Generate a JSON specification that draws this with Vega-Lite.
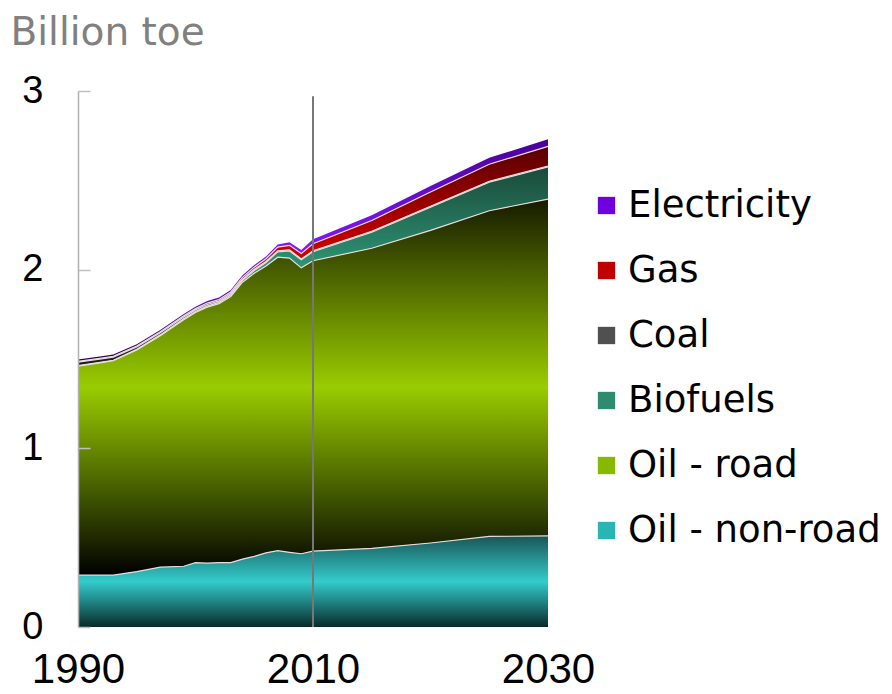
{
  "$schema": "https://vega.github.io/schema/vega-lite/v6.json",
  "width": 470,
  "height": 536,
  "autosize": {"type": "none"},
  "padding": {"left": 78, "top": 91, "right": 344, "bottom": 67},
  "config": {"view": {"stroke": null}, "font": "DejaVu Sans"},
  "data": {
    "values": [
      {"year": 1990, "Oil - non-road": 0.29, "Oil - road": 1.17, "Biofuels": 0.003, "Coal": 0.02, "Gas": 0.004, "Electricity": 0.01},
      {"year": 1992, "Oil - non-road": 0.29, "Oil - road": 1.19, "Biofuels": 0.003, "Coal": 0.018, "Gas": 0.004, "Electricity": 0.01},
      {"year": 1993, "Oil - non-road": 0.29, "Oil - road": 1.2, "Biofuels": 0.003, "Coal": 0.017, "Gas": 0.005, "Electricity": 0.01},
      {"year": 1995, "Oil - non-road": 0.31, "Oil - road": 1.24, "Biofuels": 0.004, "Coal": 0.014, "Gas": 0.005, "Electricity": 0.01},
      {"year": 1997, "Oil - non-road": 0.335, "Oil - road": 1.295, "Biofuels": 0.005, "Coal": 0.012, "Gas": 0.006, "Electricity": 0.01},
      {"year": 1999, "Oil - non-road": 0.34, "Oil - road": 1.38, "Biofuels": 0.005, "Coal": 0.01, "Gas": 0.007, "Electricity": 0.01},
      {"year": 2000, "Oil - non-road": 0.36, "Oil - road": 1.4, "Biofuels": 0.006, "Coal": 0.009, "Gas": 0.007, "Electricity": 0.011},
      {"year": 2001, "Oil - non-road": 0.357, "Oil - road": 1.433, "Biofuels": 0.006, "Coal": 0.009, "Gas": 0.008, "Electricity": 0.011},
      {"year": 2002, "Oil - non-road": 0.36, "Oil - road": 1.45, "Biofuels": 0.007, "Coal": 0.008, "Gas": 0.008, "Electricity": 0.011},
      {"year": 2003, "Oil - non-road": 0.36, "Oil - road": 1.49, "Biofuels": 0.008, "Coal": 0.008, "Gas": 0.009, "Electricity": 0.011},
      {"year": 2004, "Oil - non-road": 0.38, "Oil - road": 1.55, "Biofuels": 0.01, "Coal": 0.007, "Gas": 0.01, "Electricity": 0.012},
      {"year": 2005, "Oil - non-road": 0.395, "Oil - road": 1.585, "Biofuels": 0.015, "Coal": 0.007, "Gas": 0.012, "Electricity": 0.012},
      {"year": 2006, "Oil - non-road": 0.415, "Oil - road": 1.605, "Biofuels": 0.02, "Coal": 0.006, "Gas": 0.015, "Electricity": 0.013},
      {"year": 2007, "Oil - non-road": 0.427, "Oil - road": 1.643, "Biofuels": 0.03, "Coal": 0.006, "Gas": 0.02, "Electricity": 0.015},
      {"year": 2008, "Oil - non-road": 0.418, "Oil - road": 1.647, "Biofuels": 0.04, "Coal": 0.006, "Gas": 0.025, "Electricity": 0.017},
      {"year": 2009, "Oil - non-road": 0.41, "Oil - road": 1.6, "Biofuels": 0.045, "Coal": 0.005, "Gas": 0.03, "Electricity": 0.02},
      {"year": 2010, "Oil - non-road": 0.425, "Oil - road": 1.625, "Biofuels": 0.05, "Coal": 0.005, "Gas": 0.04, "Electricity": 0.025},
      {"year": 2015, "Oil - non-road": 0.44, "Oil - road": 1.68, "Biofuels": 0.09, "Coal": 0.005, "Gas": 0.06, "Electricity": 0.03},
      {"year": 2020, "Oil - non-road": 0.47, "Oil - road": 1.75, "Biofuels": 0.13, "Coal": 0.005, "Gas": 0.08, "Electricity": 0.033},
      {"year": 2025, "Oil - non-road": 0.507, "Oil - road": 1.823, "Biofuels": 0.16, "Coal": 0.005, "Gas": 0.095, "Electricity": 0.036},
      {"year": 2030, "Oil - non-road": 0.51, "Oil - road": 1.885, "Biofuels": 0.18, "Coal": 0.005, "Gas": 0.11, "Electricity": 0.04}
    ]
  },
  "transform": [
    {"fold": ["Oil - non-road", "Oil - road", "Biofuels", "Coal", "Gas", "Electricity"], "as": ["series", "value"]},
    {"calculate": "indexof(['Oil - non-road','Oil - road','Biofuels','Coal','Gas','Electricity'], datum.series)", "as": "rank"},
    {"stack": "value", "groupby": ["year"], "sort": [{"field": "rank", "order": "ascending"}], "as": ["v0", "v1"]}
  ],
  "encoding": {
    "x": {
      "field": "year", "type": "quantitative",
      "scale": {"domain": [1990, 2030], "nice": false, "zero": false},
      "axis": {"values": [1990, 2010, 2030], "format": "d", "title": null, "grid": false, "domain": false, "ticks": false, "labelFlush": false, "labelFontSize": 42, "labelColor": "#000000", "labelPadding": 22, "labelFont": "Liberation Sans"}
    },
    "y": {
      "field": "v1", "type": "quantitative",
      "scale": {"domain": [0, 3], "nice": false},
      "axis": {"values": [0, 1, 2, 3], "format": "d", "grid": false, "zindex": 1, "domainColor": "#b0b0b0", "domainWidth": 1.5, "tickColor": "#c0c0c0", "tickSize": -12, "tickWidth": 1.5, "labelPadding": 47, "labelFontSize": 38, "labelColor": "#000000", "labelFont": "Liberation Sans",
        "title": "Billion toe", "titleAngle": 0, "titleAlign": "left", "titleBaseline": "alphabetic", "titleX": -68, "titleY": -47, "titleFontSize": 39, "titleFontWeight": "normal", "titleColor": "#808080", "titleFont": "DejaVu Sans"}
    }
  },
  "layer": [
    {
      "transform": [{"filter": "datum.series == 'Oil - non-road'"}],
      "mark": {"type": "area", "color": {"gradient": "linear", "x1": 0, "y1": 0, "x2": 0, "y2": 1, "stops": [{"offset": 0, "color": "#1a5555"}, {"offset": 0.5, "color": "#33cccc"}, {"offset": 1, "color": "#0a2a2a"}]}},
      "encoding": {"y2": {"field": "v0"}}
    },
    {
      "transform": [{"filter": "datum.series == 'Oil - road'"}],
      "mark": {"type": "area", "color": {"gradient": "linear", "x1": 0, "y1": 0, "x2": 0, "y2": 1, "stops": [{"offset": 0, "color": "#161a00"}, {"offset": 0.5, "color": "#99cc00"}, {"offset": 1, "color": "#000000"}]}},
      "encoding": {"y2": {"field": "v0"}}
    },
    {
      "transform": [{"filter": "datum.series == 'Biofuels'"}],
      "mark": {"type": "area", "color": {"gradient": "linear", "x1": 0, "y1": 0, "x2": 0, "y2": 1, "stops": [{"offset": 0, "color": "#1a4a3a"}, {"offset": 0.5, "color": "#2e9474"}, {"offset": 1, "color": "#123528"}]}},
      "encoding": {"y2": {"field": "v0"}}
    },
    {
      "transform": [{"filter": "datum.series == 'Coal'"}],
      "mark": {"type": "area", "color": {"gradient": "linear", "x1": 0, "y1": 0, "x2": 0, "y2": 1, "stops": [{"offset": 0, "color": "#3a3a3a"}, {"offset": 0.5, "color": "#6a6a6a"}, {"offset": 1, "color": "#1a1a1a"}]}},
      "encoding": {"y2": {"field": "v0"}}
    },
    {
      "transform": [{"filter": "datum.series == 'Gas'"}],
      "mark": {"type": "area", "color": {"gradient": "linear", "x1": 0, "y1": 0, "x2": 0, "y2": 1, "stops": [{"offset": 0, "color": "#5a0000"}, {"offset": 0.5, "color": "#d00000"}, {"offset": 1, "color": "#300000"}]}},
      "encoding": {"y2": {"field": "v0"}}
    },
    {
      "transform": [{"filter": "datum.series == 'Electricity'"}],
      "mark": {"type": "area", "color": {"gradient": "linear", "x1": 0, "y1": 0, "x2": 0, "y2": 1, "stops": [{"offset": 0, "color": "#4a0099"}, {"offset": 0.5, "color": "#7f1aff"}, {"offset": 1, "color": "#2a0055"}]}},
      "encoding": {"y2": {"field": "v0"}}
    },
    {
      "transform": [{"filter": "datum.series != 'Electricity'"}],
      "mark": {"type": "line", "color": "#e8dede", "strokeWidth": 1.2},
      "encoding": {"detail": {"field": "series"}}
    },
    {
      "transform": [{"filter": "false"}],
      "mark": {"type": "square"},
      "encoding": {
        "color": {
          "field": "series", "type": "nominal",
          "scale": {
            "domain": ["Electricity", "Gas", "Coal", "Biofuels", "Oil - road", "Oil - non-road"],
            "range": ["#7000dd", "#c00000", "#505050", "#2e8b6e", "#88b800", "#2ab5b5"]
          },
          "legend": {"orient": "none", "legendX": 510, "legendY": 96, "title": null, "symbolType": "square", "symbolSize": 300, "symbolStrokeWidth": 0, "symbolOpacity": 1, "labelFontSize": 37, "labelFont": "DejaVu Sans", "labelColor": "#000000", "labelLimit": 400, "labelOffset": 3, "rowPadding": 27, "padding": 0}
        }
      }
    },
    {
      "data": {"values": [{"year": 2010, "v0": 0, "v1": 2.97}]},
      "mark": {"type": "rule", "color": "#777777", "strokeWidth": 2},
      "encoding": {"y2": {"field": "v0"}}
    }
  ]
}
